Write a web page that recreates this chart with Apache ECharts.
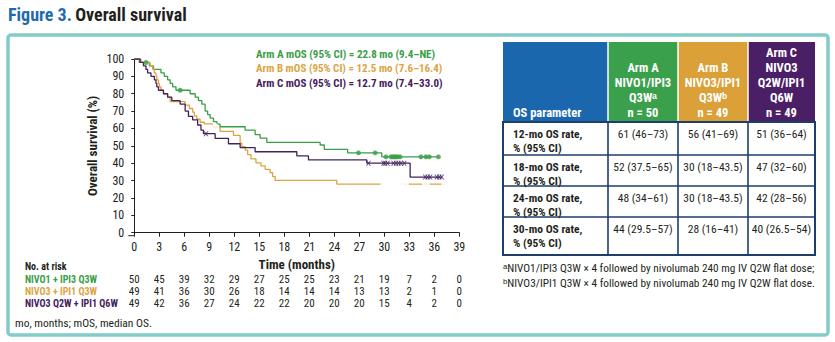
<!DOCTYPE html>
<html><head><meta charset="utf-8">
<script src="https://cdn.jsdelivr.net/npm/echarts@6/dist/echarts.min.js"></script>
<style>html,body{margin:0;padding:0;background:#fff}#c{width:835px;height:342px}</style>
</head><body><div id="c"></div>
<script>
const FONT = '"Liberation Sans Narrow","Roboto Condensed","Arial Narrow","Liberation Sans",sans-serif';
const DARK = '#231f20';
const COL_A = '#3a9e48', COL_B = '#dca443', COL_C = '#45205f';

// Axis ticks
const xTickInterval = 3, xMax = 39;
const yTickInterval = 10, yMax = 100;

// Arm A (NIVO1 + IPI3 Q3W): event times (months) and survival (%) after each event
const armA_times = [0.6, 1.8, 2.3, 3.2, 3.6, 4.0, 4.3, 4.6, 5.0, 6.7, 7.3, 7.7, 8.1, 8.5, 8.8, 9.1, 9.5, 9.9, 10.3, 13.3, 14.5, 15.1, 15.9, 22.3, 22.8, 25.6, 29.7];
const armA_surv  = [98, 96, 94, 92, 90, 88, 86, 84, 82, 80, 78, 76, 74, 70, 68, 66, 64, 62.5, 61, 59, 56.5, 54.5, 52, 50.5, 48, 46, 43.7];
const armA_censor = [1.4, 5.5, 26.9, 28.9, 30.2, 30.8, 31.0, 31.2, 31.4, 31.6, 31.9, 34.4, 35.0, 35.4, 36.5];

// Arm B (NIVO3 + IPI1 Q3W)
const armB_times = [0.8, 1.9, 2.2, 2.4, 2.6, 2.7, 2.9, 3.0, 3.2, 3.5, 4.0, 4.3, 6.1, 6.6, 7.0, 7.2, 7.5, 7.9, 8.4, 9.4, 10.3, 11.9, 12.7, 12.9, 13.3, 13.6, 14.0, 14.6, 15.2, 15.7, 16.3, 16.6, 16.9, 24.3];
const armB_surv  = [98, 96, 94, 92, 90, 88, 86, 84, 82, 80, 78, 75.5, 73.5, 71.5, 69.4, 67.3, 65.3, 63.6, 62.6, 60.7, 58.3, 56, 51.5, 49.5, 47.5, 45, 42.5, 40.2, 38.5, 36.5, 34.5, 32.3, 30.1, 28];
const armB_censor = [9.7, 30.0, 30.2, 30.4, 30.6, 30.8, 31.0, 31.5, 31.9, 32.5, 35.0, 37.3];

// Arm C (NIVO3 Q2W + IPI1 Q6W)
const armC_times = [0.7, 1.1, 1.4, 1.6, 2.0, 2.4, 2.6, 2.7, 2.9, 3.5, 4.0, 4.5, 5.5, 6.1, 6.5, 7.0, 7.6, 8.0, 8.3, 9.7, 11.3, 12.7, 14.5, 19.5, 20.9, 27.9, 33.1];
const armC_surv  = [98, 96, 94, 92, 90, 88, 86, 84, 82, 80, 78, 76, 74, 70, 67, 65, 62, 59, 57, 54.3, 51.2, 49, 46.6, 44.2, 41.9, 40, 32];
const armC_censor = [8.6, 28.1, 29.9, 30.1, 30.4, 31.1, 31.4, 31.7, 32.0, 32.4, 34.9, 35.2, 35.5, 36.3, 36.6, 36.9];

// Number at risk
const atRiskTimes = [0, 3, 6, 9, 12, 15, 18, 21, 24, 27, 30, 33, 36, 39];
const atRiskA = [50, 45, 39, 32, 29, 27, 25, 25, 23, 21, 19, 7, 2, 0];
const atRiskB = [49, 41, 36, 30, 26, 18, 14, 14, 14, 13, 13, 2, 1, 0];
const atRiskC = [49, 42, 36, 27, 24, 22, 22, 20, 20, 20, 15, 4, 2, 0];
const atRiskLabels = ['NIVO1 + IPI3 Q3W', 'NIVO3 + IPI1 Q3W', 'NIVO3 Q2W + IPI1 Q6W'];

const legendTexts = ['Arm A mOS (95% CI) = 22.8 mo (9.4–NE)', 'Arm B mOS (95% CI) = 12.5 mo (7.6–16.4)', 'Arm C mOS (95% CI) = 12.7 mo (7.4–33.0)'];

// Table
const tableHeaderA = ['Arm A', 'NIVO1/IPI3', 'Q3Wᵃ', 'n = 50'];
const tableHeaderB = ['Arm B', 'NIVO3/IPI1', 'Q3Wᵇ', 'n = 49'];
const tableHeaderC = ['Arm C', 'NIVO3', 'Q2W/IPI1', 'Q6W', 'n = 49'];
const tableRowLabels = [['12-mo OS rate,', '% (95% CI)'], ['18-mo OS rate,', '% (95% CI)'], ['24-mo OS rate,', '% (95% CI)'], ['30-mo OS rate,', '% (95% CI)']];
const ratesA = ['61 (46–73)', '52 (37.5–65)', '48 (34–61)', '44 (29.5–57)'];
const ratesB = ['56 (41–69)', '30 (18–43.5)', '30 (18–43.5)', '28 (16–41)'];
const ratesC = ['51 (36–64)', '47 (32–60)', '42 (28–56)', '40 (26.5–54)'];
const footnotes = ['ᵃNIVO1/IPI3 Q3W × 4 followed by nivolumab 240 mg IV Q2W flat dose;', 'ᵇNIVO3/IPI1 Q3W × 4 followed by nivolumab 240 mg IV Q2W flat dose.'];

function stepData(times, surv, censor) {
  const d = [[0, 100]];
  times.forEach((t, i) => d.push([t, surv[i]]));
  const lastC = Math.max(...censor);
  d.push([lastC, surv[surv.length - 1]]);
  return d;
}
function survAt(times, surv, t) {
  let s = 100;
  times.forEach((tt, i) => { if (tt <= t) s = surv[i]; });
  return s;
}
const XPATH = 'path://M0,0 L2.2,0 L5,3.4 L7.8,0 L10,0 L6.2,5 L10,10 L7.8,10 L5,6.6 L2.2,10 L0,10 L3.8,5 Z';

const arms = [
  {t: armA_times, s: armA_surv, c: armA_censor, color: COL_A, sym: 'circle', size: 5},
  {t: armB_times, s: armB_surv, c: armB_censor, color: COL_B, sym: 'emptyCircle', size: 6},
  {t: armC_times, s: armC_surv, c: armC_censor, color: COL_C, sym: XPATH, size: 5}
];
const series = [];
arms.forEach(a => {
  series.push({type: 'line', step: 'end', data: stepData(a.t, a.s, a.c), showSymbol: false, symbol: 'none',
    lineStyle: {color: a.color, width: 1.3}, silent: true, z: 3, animation: false});
  series.push({type: 'scatter', data: a.c.map(t => [t, survAt(a.t, a.s, t)]), symbol: a.sym, symbolSize: a.size,
    itemStyle: a.sym === 'emptyCircle' ? {color: '#fff', borderColor: a.color, borderWidth: 1.1} : {color: a.color},
    z: 4, animation: false});
});

const chart = echarts.init(document.getElementById('c'), null, {renderer: 'svg'});
chart.setOption({
  animation: false,
  backgroundColor: '#fff',
  grid: {left: 134.3, right: 375.7, top: 59, bottom: 109.3},
  xAxis: {type: 'value', min: 0, max: xMax, interval: xTickInterval, offset: 3,
    axisLine: {lineStyle: {color: DARK, width: 1}}, axisTick: {length: 4, lineStyle: {color: DARK}},
    axisLabel: {color: DARK, fontSize: 12, fontFamily: FONT, margin: 5}, splitLine: {show: false},
    name: 'Time (months)', nameLocation: 'middle', nameGap: 19,
    nameTextStyle: {color: DARK, fontSize: 13, fontWeight: 'bold', fontFamily: FONT, verticalAlign: 'top'}},
  yAxis: {type: 'value', min: 0, max: yMax, interval: yTickInterval, offset: 6,
    axisLine: {show: true, lineStyle: {color: DARK, width: 1}}, axisTick: {show: true, length: 3, lineStyle: {color: DARK}},
    axisLabel: {color: DARK, fontSize: 12, fontFamily: FONT, margin: 4}, splitLine: {show: false},
    name: 'Overall survival (%)', nameLocation: 'middle', nameGap: 29,
    nameTextStyle: {color: DARK, fontSize: 13, fontWeight: 'bold', fontFamily: FONT}},
  series: series
});

const g = [];
function txt(text, x, y, o) {
  o = o || {};
  g.push({type: 'text', x: x, y: y, z: 10, silent: true, style: {text: text, fill: o.fill || DARK,
    fontSize: o.size || 11.5, fontWeight: o.bold ? 'bold' : 'normal', fontFamily: FONT,
    textAlign: o.align || 'left', textVerticalAlign: 'middle'}});
}
function rect(x, y, w, h, o) {
  g.push({type: 'rect', z: o.z || 5, silent: true, shape: {x: x, y: y, width: w, height: h, r: o.r || 0},
    style: {fill: o.fill || 'none', stroke: o.stroke || 'none', lineWidth: o.lw || 1}});
}
function line(x1, y1, x2, y2, color, lw) {
  g.push({type: 'line', z: 7, silent: true, shape: {x1: x1, y1: y1, x2: x2, y2: y2}, style: {stroke: color, lineWidth: lw}});
}

// Title
g.push({type: 'text', x: 8, y: 14, z: 10, style: {text: '{b|Figure 3.} {d|Overall survival}', textVerticalAlign: 'middle',
  rich: {b: {fill: '#1f6aad', fontSize: 18, fontWeight: 'bold', fontFamily: FONT},
         d: {fill: DARK, fontSize: 18, fontWeight: 'bold', fontFamily: FONT}}}});
// Box
rect(8, 35, 820, 300, {stroke: '#82cbc9', lw: 3.5, r: 3, z: 1});
// x axis line extension to meet the offset y axis
line(128.3, 235.7, 134.3, 235.7, DARK, 1);

// Legend texts
const legCols = [COL_A, COL_B, COL_C];
const legY = [54, 68.5, 83];
legendTexts.forEach((t, i) => txt(t, 256, legY[i], {fill: legCols[i], bold: true, size: 11}));

// Number at risk
txt('No. at risk', 25, 266, {bold: true, size: 10});
const riskRows = [atRiskA, atRiskB, atRiskC];
const riskY = [279.3, 291.5, 303.3];
riskRows.forEach((row, r) => {
  txt(atRiskLabels[r], 25, riskY[r], {fill: legCols[r], bold: true, size: 10});
  row.forEach((v, i) => {
    const px = chart.convertToPixel({xAxisIndex: 0}, atRiskTimes[i]);
    txt(String(v), px, riskY[r], {align: 'center', size: 11});
  });
});
txt('mo, months; mOS, median OS.', 15, 323, {size: 11.5});

// Table
const TL = 503, TR = 815, colX = [503, 608, 678, 748, 815];
const hTop = 42, hBot = 122, rowY = [122, 155, 186, 217, 255];
const NAVY = '#1d3d6b';
const hdrColors = ['#1b67ad', '#3aa04b', '#dba037', '#4b1f66'];
hdrColors.forEach((c, i) => rect(colX[i], hTop, colX[i + 1] - colX[i], hBot - hTop, {fill: c, z: 5}));
for (let i = 1; i < 4; i++) line(colX[i], hTop, colX[i], hBot, '#ffffff', 1.5);
rect(TL, hBot, TR - TL, rowY[4] - hBot, {stroke: NAVY, lw: 2, z: 7});
for (let i = 1; i < 4; i++) line(TL, rowY[i], TR, rowY[i], NAVY, 1.6);
for (let i = 1; i < 4; i++) line(colX[i], hBot, colX[i], rowY[4], NAVY, 1.6);
line(TL, hBot, TR, hBot, NAVY, 2);
txt('OS parameter', 513, 112.5, {fill: '#fff', bold: true, size: 12.5});
const hdrs = [tableHeaderA, tableHeaderB, tableHeaderC];
hdrs.forEach((h, c) => {
  const cx = (colX[c + 1] + colX[c + 2]) / 2;
  const n = h.length;
  h.forEach((t, k) => txt(t, cx, 112.5 - (n - 1 - k) * 15, {fill: '#fff', bold: true, size: 12.5, align: 'center'}));
});
const rates = [ratesA, ratesB, ratesC];
tableRowLabels.forEach((lab, r) => {
  txt(lab[0], 513, rowY[r] + 12, {bold: true, size: 11.5});
  txt(lab[1], 513, rowY[r] + 26, {bold: true, size: 11.5});
  rates.forEach((col, c) => {
    const cx = (colX[c + 1] + colX[c + 2]) / 2;
    txt(col[r], cx, rowY[r] + 12, {size: 11.5, align: 'center'});
  });
});
footnotes.forEach((f, i) => txt(f, 503, 268 + i * 15, {size: 11.3}));

chart.setOption({graphic: g});
</script></body></html>
